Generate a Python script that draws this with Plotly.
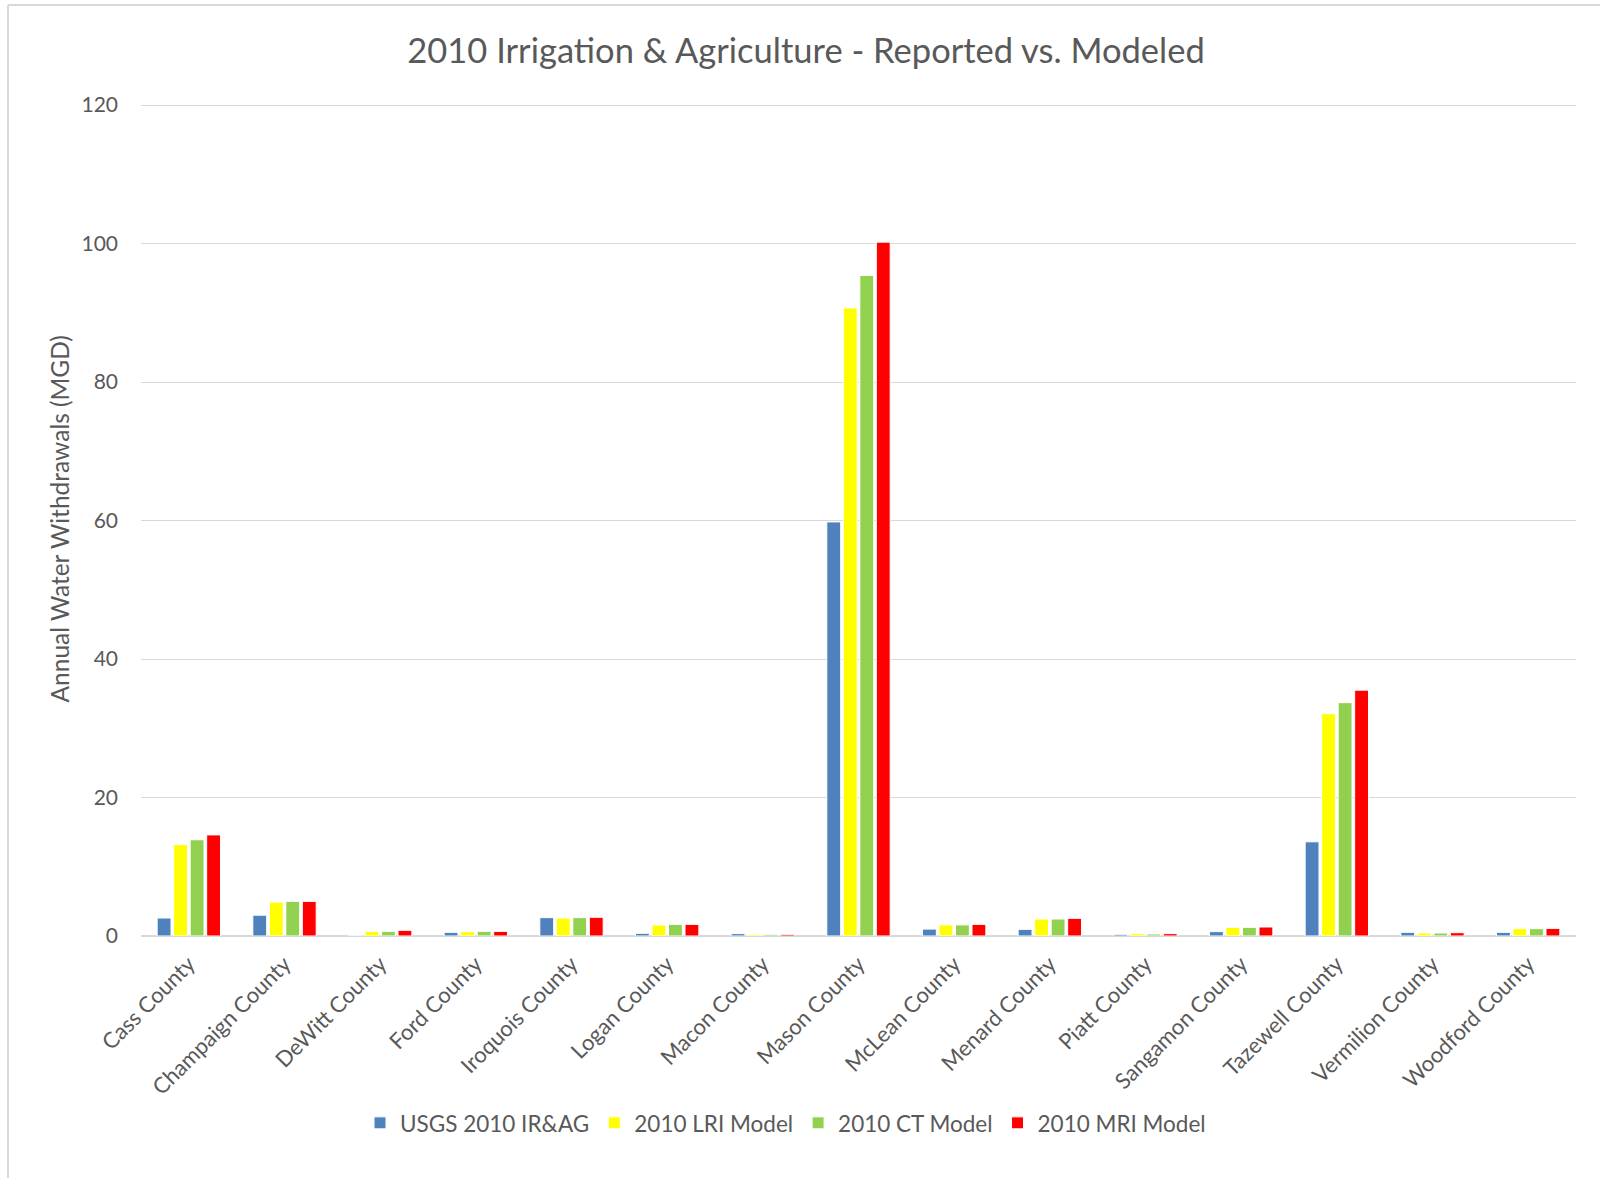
import plotly.graph_objects as go

counties = ["Cass County", "Champaign County", "DeWitt County", "Ford County",
            "Iroquois County", "Logan County", "Macon County", "Mason County",
            "McLean County", "Menard County", "Piatt County", "Sangamon County",
            "Tazewell County", "Vermilion County", "Woodford County"]

usgs = [2.6, 3.0, 0.1, 0.53, 2.65, 0.39, 0.34, 59.8, 1.0, 0.96, 0.24, 0.63, 13.6, 0.53, 0.53]
lri = [13.2, 4.9, 0.67, 0.63, 2.6, 1.59, 0.24, 90.7, 1.6, 2.45, 0.34, 1.25, 32.1, 0.43, 1.06]
ct = [13.9, 5.0, 0.67, 0.67, 2.65, 1.68, 0.24, 95.4, 1.6, 2.45, 0.29, 1.25, 33.7, 0.43, 1.06]
mri = [14.6, 5.0, 0.82, 0.67, 2.7, 1.68, 0.24, 100.2, 1.68, 2.55, 0.34, 1.3, 35.5, 0.48, 1.1]

series = [("USGS 2010 IR&AG", usgs, "#4F81BD"),
          ("2010 LRI Model", lri, "#FFFF00"),
          ("2010 CT Model", ct, "#92D050"),
          ("2010 MRI Model", mri, "#FF0000")]

FONT = "Lato, 'Open Sans', sans-serif"
GREY = "#595959"

fig = go.Figure()
for name, vals, col in series:
    fig.add_trace(go.Bar(x=counties, y=vals, name=name,
                         marker=dict(color=col, line=dict(color="white", width=1))))

W, H = 1600, 1178
L, R, T, B = 141, 24, 105, 242
pw = W - L - R
ph = H - T - B

def px(x):
    return (x - L) / pw

def py(y):
    return (H - B - y) / ph

fig.update_layout(
    width=W, height=H,
    margin=dict(l=L, r=R, t=T - 1, b=B),
    paper_bgcolor="white", plot_bgcolor="white",
    barmode="group", bargap=0.31, bargroupgap=0.16,
    font=dict(family=FONT, color=GREY, size=21),
    title=dict(text="2010 Irrigation & Agriculture - Reported vs. Modeled",
               x=px(806), xref="paper", xanchor="center",
               y=1 - 51 / H, yref="container", yanchor="middle",
               font=dict(size=34.5, color=GREY, family=FONT)),
    xaxis=dict(tickangle=-45, tickfont=dict(size=22, color=GREY),
               showgrid=False, showline=False, ticks="", ticklabelstandoff=10),
    yaxis=dict(range=[0, 120.15], dtick=20, gridcolor="#D9D9D9", gridwidth=1.3,
               zeroline=True, zerolinecolor="#D9D9D9", zerolinewidth=2,
               tickfont=dict(size=21, color=GREY), ticks="", showline=False,
               ticklabelstandoff=22),
    legend=dict(orientation="h", x=px(360), xanchor="left", y=py(1123), yanchor="middle",
                font=dict(size=22.5, color=GREY), itemwidth=30, traceorder="normal"),
    showlegend=True,
)

fig.add_annotation(text="Annual Water Withdrawals (MGD)", textangle=-90,
                   x=px(59), xref="paper", xanchor="center",
                   y=py(520), yref="paper", yanchor="middle",
                   showarrow=False, font=dict(size=24.5, color=GREY, family=FONT))

fig.add_shape(type="line", xref="paper", yref="paper",
              x0=px(8), x1=px(8), y0=py(6), y1=py(H + 5),
              line=dict(color="#D9D9D9", width=2))
fig.add_shape(type="line", xref="paper", yref="paper",
              x0=px(8), x1=px(W + 5), y0=py(6), y1=py(6),
              line=dict(color="#D9D9D9", width=2))

fig.write_html("out.html")
